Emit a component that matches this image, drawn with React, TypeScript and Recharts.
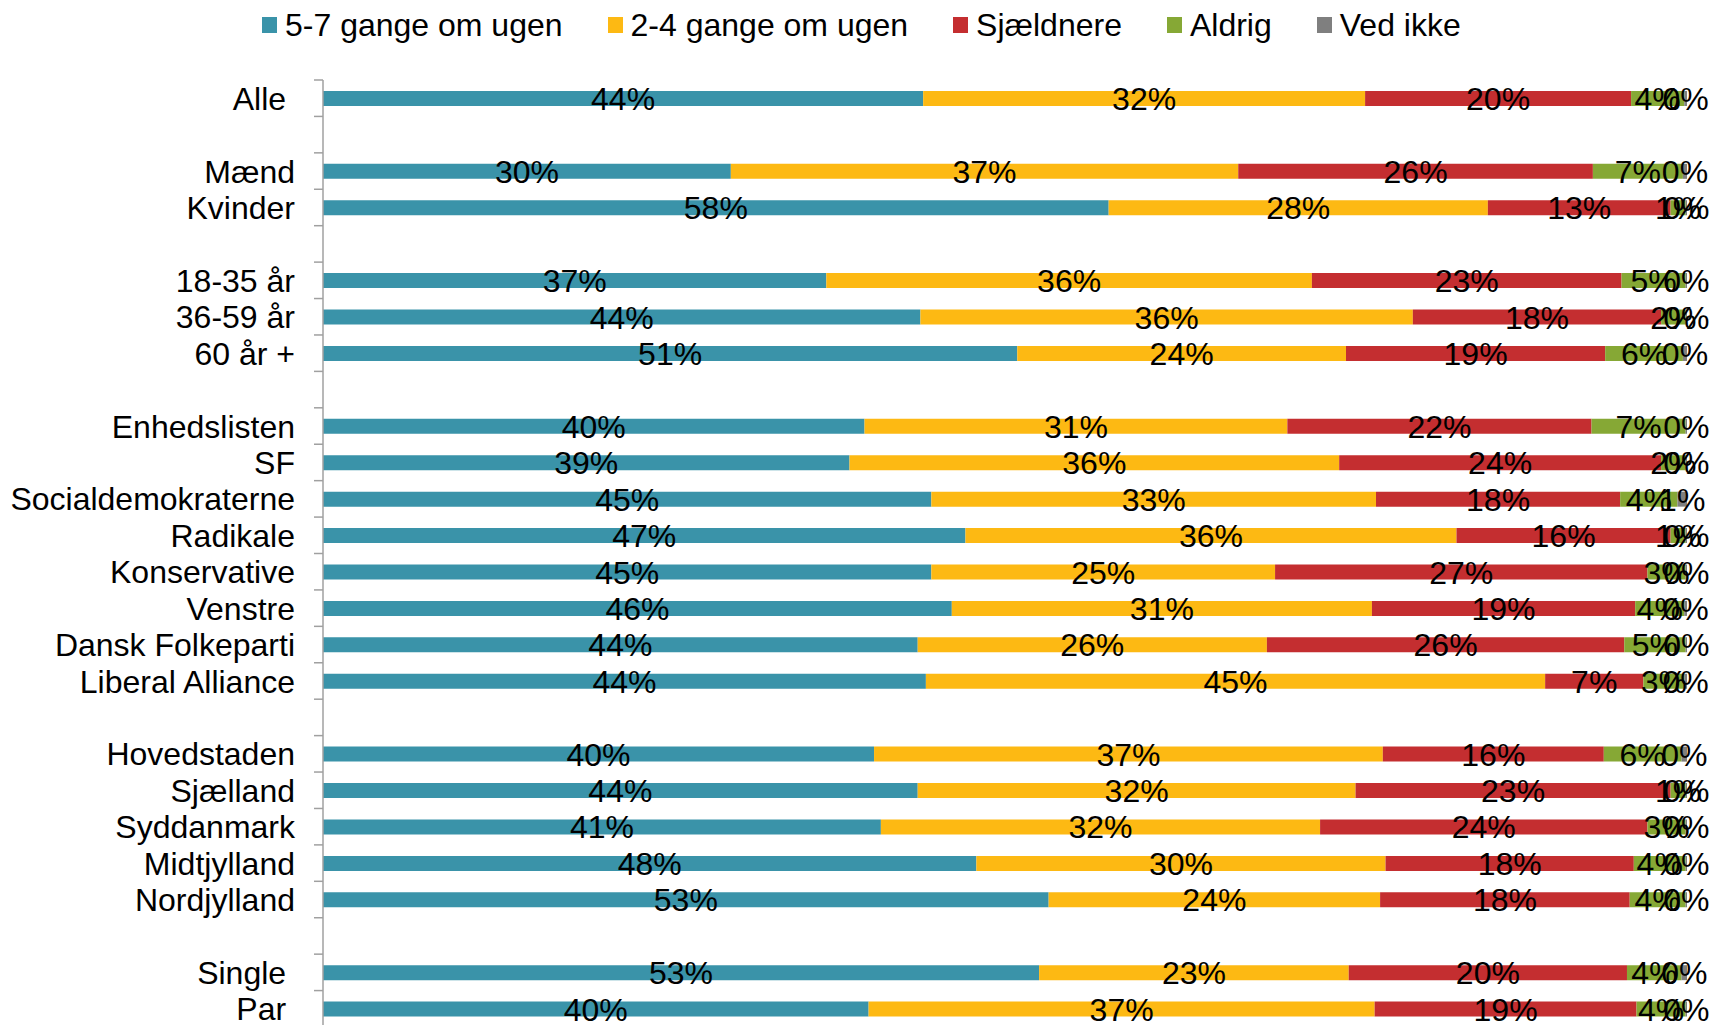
import React from "react";
import { BarChart, Bar, XAxis, YAxis, Legend, LabelList } from "recharts";

const categories = [
  "Alle ", "", "Mænd", "Kvinder", "", "18-35 år", "36-59 år", "60 år +", "",
  "Enhedslisten", "SF", "Socialdemokraterne", "Radikale", "Konservative", "Venstre",
  "Dansk Folkeparti", "Liberal Alliance", "", "Hovedstaden", "Sjælland", "Syddanmark",
  "Midtjylland", "Nordjylland", "", "Single ", "Par ",
];

const freq57 = [44.0, null, 29.9, 57.6, null, 36.9, 43.8, 50.9, null, 39.7, 38.6, 44.6, 47.1, 44.6, 46.1, 43.6, 44.2, null, 40.4, 43.6, 40.9, 47.9, 53.2, null, 52.5, 40.0];
const freq24 = [32.4, null, 37.2, 27.8, null, 35.6, 36.1, 24.1, null, 31.0, 35.9, 32.6, 36.0, 25.2, 30.8, 25.6, 45.4, null, 37.3, 32.1, 32.2, 30.0, 24.3, null, 22.7, 37.1];
const rarer = [19.5, null, 26.0, 13.4, null, 22.7, 18.2, 19.0, null, 22.3, 23.6, 17.9, 15.7, 27.3, 19.3, 26.2, 7.2, null, 16.2, 23.1, 24.0, 18.2, 18.3, null, 20.4, 19.2];
const never = [3.9, null, 6.6, 1.1, null, 4.7, 1.8, 5.7, null, 6.9, 1.8, 4.2, 1.1, 2.8, 3.6, 4.5, 3.0, null, 5.7, 1.1, 2.8, 3.8, 4.1, null, 4.0, 3.6];
const dontKnow = [0.2, null, 0.3, 0.1, null, 0.1, 0.1, 0.3, null, 0.1, 0.1, 0.7, 0.1, 0.1, 0.2, 0.1, 0.2, null, 0.4, 0.1, 0.1, 0.1, 0.1, null, 0.4, 0.1];

const seriesNames = ["5-7 gange om ugen", "2-4 gange om ugen", "Sjældnere", "Aldrig", "Ved ikke"];
const seriesKeys = ["a", "b", "c", "d", "e"];
const seriesColors = ["#3A93A9", "#FDB913", "#C42E30", "#86A835", "#7F7F7F"];

const data = categories.map((name, i) => ({
  name,
  a: freq57[i],
  b: freq24[i],
  c: rarer[i],
  d: never[i],
  e: dontKnow[i],
}));

const FONT = "'Liberation Sans', Arial, sans-serif";
const CHART_W = 1711;
const CHART_H = 1031;
const MARGIN = { top: 80, right: 24, bottom: 4, left: 0 };
const BAND = (CHART_H - MARGIN.top - MARGIN.bottom) / categories.length;

const YTick = (props: any) => {
  const { x, y, payload, index } = props;
  return (
    <g>
      <line x1={x - 9} x2={x} y1={y - BAND / 2} y2={y - BAND / 2} stroke="#A0A0A0" strokeWidth={1.5} />
      {index === categories.length - 1 && (
        <line x1={x - 9} x2={x} y1={y + BAND / 2} y2={y + BAND / 2} stroke="#A0A0A0" strokeWidth={1.5} />
      )}
      <text
        x={x - 28}
        y={y}
        dy="0.36em"
        textAnchor="end"
        fontSize={32}
        fontFamily={FONT}
        fill="#000"
        xmlSpace="preserve"
        style={{ whiteSpace: "pre" }}
      >
        {payload.value}
      </text>
    </g>
  );
};

const LegendContent = () => (
  <div style={{ display: "flex", alignItems: "center", fontFamily: FONT, fontSize: 32, color: "#000", lineHeight: "40px" }}>
    {seriesNames.map((n, i) => (
      <div key={n} style={{ display: "flex", alignItems: "center", marginRight: 45 }}>
        <div style={{ width: 15, height: 16, background: seriesColors[i], marginRight: 8 }} />
        <span>{n}</span>
      </div>
    ))}
  </div>
);

const SegLabel = (props: any) => {
  const { x, y, width, height, value } = props;
  if (value === null || value === undefined || isNaN(Number(value))) return null;
  return (
    <text
      x={Number(x) + Number(width) / 2}
      y={Number(y) + Number(height) / 2}
      dy="0.36em"
      textAnchor="middle"
      fontSize={32}
      fontFamily={FONT}
      fill="#000"
    >
      {`${Math.round(Number(value))}%`}
    </text>
  );
};

export default function App() {
  return (
    <div style={{ position: "absolute", left: 0, top: 0, width: 1711, height: 1025, overflow: "hidden", background: "#fff" }}>
      <BarChart
        width={CHART_W}
        height={CHART_H}
        data={data}
        layout="vertical"
        margin={MARGIN}
        barCategoryGap={0}
      >
        <XAxis type="number" hide domain={[0, 100]} allowDataOverflow />
        <YAxis
          type="category"
          dataKey="name"
          width={323}
          axisLine={{ stroke: "#A0A0A0", strokeWidth: 1.5 }}
          tickLine={false}
          tickSize={0}
          tickMargin={0}
          interval={0}
          tick={<YTick />}
        />
        <Legend
          verticalAlign="middle"
          align="center"
          wrapperStyle={{ top: 5, left: 262, width: 1400, height: 40 }}
          content={<LegendContent />}
        />
        {seriesKeys.map((k, i) => (
          <Bar key={k} dataKey={k} name={seriesNames[i]} stackId="s" fill={seriesColors[i]} barSize={15} isAnimationActive={false}>
            <LabelList dataKey={k} position="center" content={<SegLabel />} />
          </Bar>
        ))}
      </BarChart>
    </div>
  );
}
